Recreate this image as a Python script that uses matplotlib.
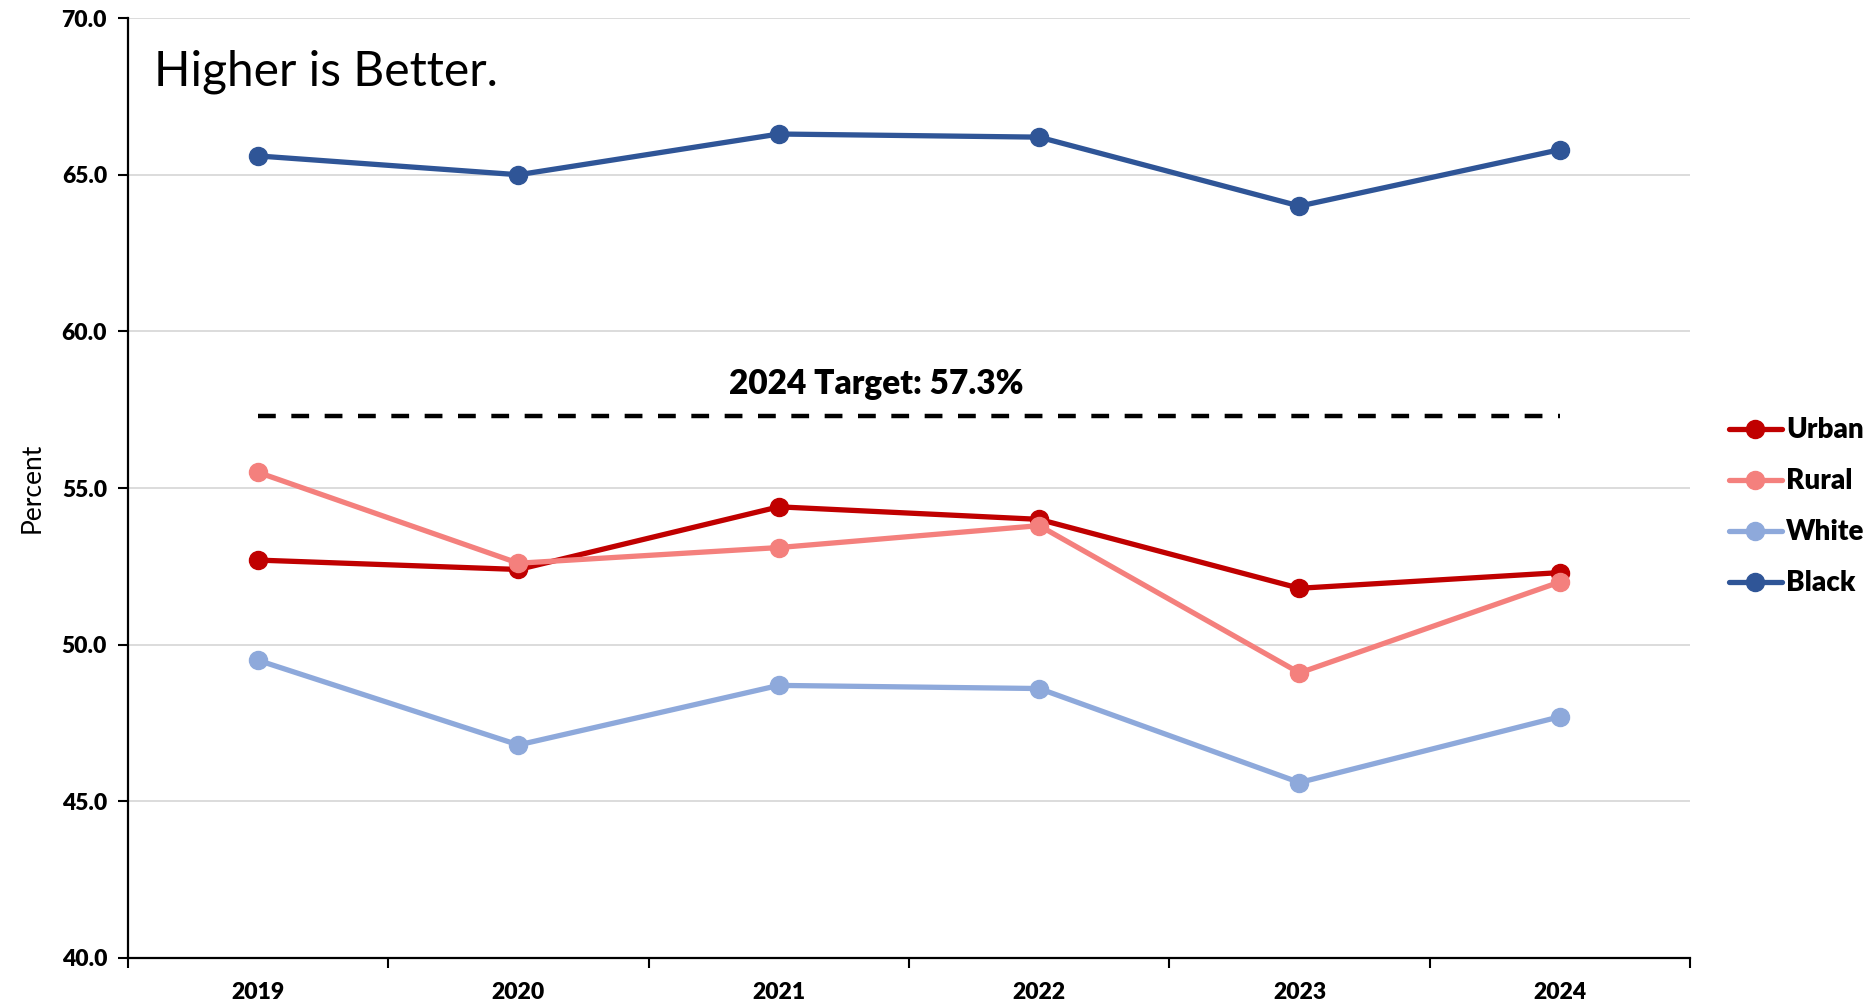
import numpy as np
import matplotlib.pyplot as plt
from matplotlib.ticker import FixedLocator

plt.rcParams['font.family'] = ['Lato', 'DejaVu Sans']

years = ['2019', '2020', '2021', '2022', '2023', '2024']
urban = [52.7, 52.4, 54.4, 54.0, 51.8, 52.3]
rural = [55.5, 52.6, 53.1, 53.8, 49.1, 52.0]
white = [49.5, 46.8, 48.7, 48.6, 45.6, 47.7]
black = [65.6, 65.0, 66.3, 66.2, 64.0, 65.8]
target = 57.3

series = [('Urban', urban, '#C00000'),
          ('Rural', rural, '#F4807D'),
          ('White', white, '#8EA9DB'),
          ('Black', black, '#2F5597')]

fig = plt.figure(figsize=(18.73, 10.05), dpi=100)
ax = fig.add_axes([0.0683, 0.0468, 0.834, 0.9352])

x = np.arange(len(years))
for name, vals, col in series:
    ax.plot(x, vals, color=col, lw=3.8, marker='o', ms=13, label=name,
            solid_capstyle='round', zorder=3)

ax.plot([x[0], x[-1]], [target, target], color='black', lw=3.2,
        dashes=(4, 3.5), zorder=2)
# label sits a bit left of the line's middle, as in the original
ax.text(2.375, target + 0.5, '2024 Target: 57.3%',
        ha='center', va='bottom', fontsize=24, fontweight='heavy')

ax.text(0.0165, 0.943, 'Higher is Better.', transform=ax.transAxes,
        fontsize=34.5, ha='left', va='center')

bold = {'size': 16.5, 'weight': 'heavy'}
ax.set_xlim(-0.5, len(years) - 0.5)
ax.set_ylim(40, 70)
ax.set_yticks(np.arange(40, 71, 5))
ax.set_yticklabels([f'{v:.1f}' for v in np.arange(40, 71, 5)], **bold)
ax.yaxis.grid(True, color='#D9D9D9', lw=1.3)
ax.set_axisbelow(True)

ax.xaxis.set_major_locator(FixedLocator(np.arange(-0.5, len(years), 1.0)))
ax.xaxis.set_minor_locator(FixedLocator(x))
ax.set_xticklabels([])
ax.set_xticklabels(years, minor=True, **bold)
ax.tick_params(axis='x', which='major', length=7, width=1.5, direction='out')
ax.tick_params(axis='x', which='minor', length=0, pad=17)
ax.tick_params(axis='y', length=7, width=1.5, pad=8)

for s in ['top', 'right']:
    ax.spines[s].set_visible(False)
for s in ['left', 'bottom']:
    ax.spines[s].set_linewidth(1.6)

ax.set_ylabel('Percent', fontsize=19, labelpad=12)

leg = ax.legend(loc='center left', bbox_to_anchor=(1.0, 0.48), frameon=False,
                prop={'size': 20, 'weight': 'heavy'}, handlelength=1.9,
                handletextpad=0.15, labelspacing=0.9, borderaxespad=1.0)

fig.savefig('out.png', dpi=100)
